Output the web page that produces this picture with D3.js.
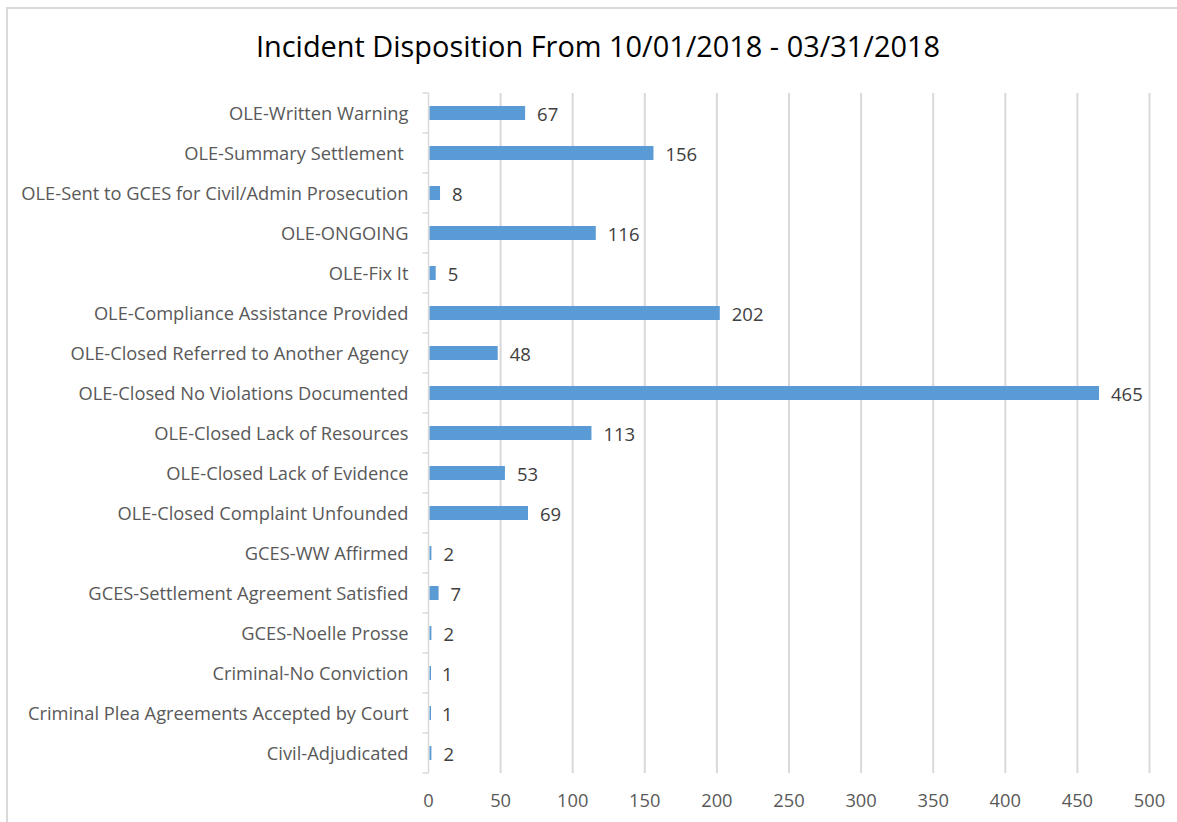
<!DOCTYPE html>
<html>
<head>
<meta charset="utf-8">
<script src="https://cdn.jsdelivr.net/npm/d3@7"></script>
<style>
  body { margin: 0; background: #fff; }
  svg { display: block; }
</style>
</head>
<body>
<div id="chart"></div>
<script>
// Categories, top to bottom as shown
const categories = [
    "OLE-Written Warning",
    "OLE-Summary Settlement ",
    "OLE-Sent to GCES for Civil/Admin Prosecution",
    "OLE-ONGOING",
    "OLE-Fix It",
    "OLE-Compliance Assistance Provided",
    "OLE-Closed Referred to Another Agency",
    "OLE-Closed No Violations Documented",
    "OLE-Closed Lack of Resources",
    "OLE-Closed Lack of Evidence",
    "OLE-Closed Complaint Unfounded",
    "GCES-WW Affirmed",
    "GCES-Settlement Agreement Satisfied",
    "GCES-Noelle Prosse",
    "Criminal-No Conviction",
    "Criminal Plea Agreements Accepted by Court",
    "Civil-Adjudicated"
];
const counts = [67, 156, 8, 116, 5, 202, 48, 465, 113, 53, 69, 2, 7, 2, 1, 1, 2];
const xTicks = [0, 50, 100, 150, 200, 250, 300, 350, 400, 450, 500];

const width = 1177;
const height = 822;
const margin = { top: 93, right: 27, bottom: 49, left: 428.5 };
const font = "'Open Sans', 'Liberation Sans', sans-serif";

const svg = d3.select("#chart")
    .append("svg")
    .attr("width", width)
    .attr("height", height);

// Chart frame (only left and top edges are visible)
svg.append("path")
    .attr("d", `M7,${height}V8H${width}`)
    .attr("fill", "none")
    .attr("stroke", "#d9d9d9")
    .attr("stroke-width", 2);

// Title
svg.append("text")
    .attr("x", 598)
    .attr("y", 57)
    .attr("text-anchor", "middle")
    .style("font-family", font)
    .style("font-size", "28.9px")
    .style("fill", "#000")
    .text("Incident Disposition From 10/01/2018 - 03/31/2018");

const x = d3.scaleLinear()
    .domain([0, 500])
    .range([margin.left, width - margin.right - 0.5]);

const y = d3.scaleBand()
    .domain(categories)
    .range([margin.top, height - margin.bottom])
    .paddingInner(0.65)
    .paddingOuter(0.325);

const yOuter = d3.scaleBand()
    .domain(categories)
    .range([margin.top, height - margin.bottom]);

// Vertical gridlines
svg.append("g")
    .selectAll("line")
    .data(xTicks.slice(1))
    .enter().append("line")
    .attr("x1", d => x(d))
    .attr("x2", d => x(d))
    .attr("y1", margin.top)
    .attr("y2", height - margin.bottom)
    .attr("stroke", "#d9d9d9")
    .attr("stroke-width", 2);

// Category axis line + tick marks between categories
const axisG = svg.append("g");
axisG.append("line")
    .attr("x1", x(0))
    .attr("x2", x(0))
    .attr("y1", margin.top)
    .attr("y2", height - margin.bottom)
    .attr("stroke", "#d9d9d9")
    .attr("stroke-width", 1.5);
const bounds = categories.map(c => yOuter(c)).concat([height - margin.bottom]);
axisG.selectAll("line.tick")
    .data(bounds)
    .enter().append("line")
    .attr("class", "tick")
    .attr("x1", x(0) - 6)
    .attr("x2", x(0))
    .attr("y1", d => d)
    .attr("y2", d => d)
    .attr("stroke", "#d9d9d9")
    .attr("stroke-width", 1.5);

// Category labels
svg.append("g")
    .selectAll("text")
    .data(categories)
    .enter().append("text")
    .attr("x", x(0) - 20)
    .attr("y", d => yOuter(d) + yOuter.bandwidth() / 2 + 1)
    .attr("dy", "0.35em")
    .attr("text-anchor", "end")
    .style("font-family", font)
    .style("font-size", "18.3px")
    .style("fill", "#595959")
    .style("white-space", "pre")
    .text(d => d);

// Bars
svg.append("g")
    .selectAll("rect")
    .data(categories)
    .enter().append("rect")
    .attr("x", x(0) + 1)
    .attr("y", d => y(d))
    .attr("width", (d, i) => Math.max(1.5, x(counts[i]) - x(0) - 1))
    .attr("height", y.bandwidth())
    .attr("fill", "#5b9bd5");

// Value labels
svg.append("g")
    .selectAll("text")
    .data(categories)
    .enter().append("text")
    .attr("x", (d, i) => x(counts[i]) + 12)
    .attr("y", d => yOuter(d) + yOuter.bandwidth() / 2 + 1)
    .attr("dy", "0.38em")
    .style("font-family", font)
    .style("font-size", "18.5px")
    .style("fill", "#404040")
    .text((d, i) => counts[i]);

// X tick labels
svg.append("g")
    .selectAll("text")
    .data(xTicks)
    .enter().append("text")
    .attr("x", d => x(d))
    .attr("y", 801)
    .attr("dy", "0.35em")
    .attr("text-anchor", "middle")
    .style("font-family", font)
    .style("font-size", "18.3px")
    .style("fill", "#595959")
    .text(d => d);
</script>
</body>
</html>
